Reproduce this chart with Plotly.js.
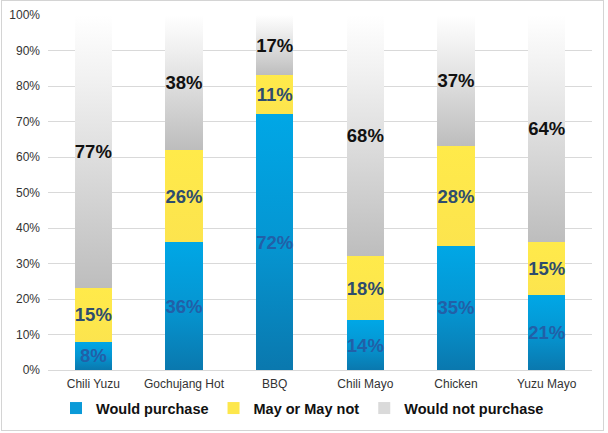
<!DOCTYPE html>
<html><head><meta charset="utf-8">
<script src="https://cdn.plot.ly/plotly-3.0.1.min.js"></script>
<style>
html,body{margin:0;padding:0;background:#fff;}
#chart{position:absolute;left:1px;top:0;width:601px;height:429px;border:1px solid #D4D4D4;}
</style></head>
<body><div id="chart"></div>
<script>
var categories = ["Chili Yuzu", "Gochujang Hot", "BBQ", "Chili Mayo", "Chicken", "Yuzu Mayo"];
var wouldPurchase = [8, 36, 72, 14, 35, 21];
var mayOrMayNot = [15, 26, 11, 18, 28, 15];
var wouldNotPurchase = [77, 38, 17, 68, 37, 64];
var seriesNames = ["Would purchase", "May or May not", "Would not purchase"];
var yTicks = [0, 10, 20, 30, 40, 50, 60, 70, 80, 90, 100];

function pct(a){ return a.map(function(v){ return v/100; }); }
function lab(a){ return a.map(function(v){ return v + "%"; }); }

var common = {
  type: "bar", x: categories, textposition: "inside", insidetextanchor: "middle",
  textangle: 0, constraintext: "none", hoverinfo: "none", cliponaxis: false
};
var t1 = Object.assign({}, common, {
  name: seriesNames[0], y: pct(wouldPurchase), text: lab(wouldPurchase),
  marker: {color: "#0A9AD8"},
  textfont: {family: "Arial, Liberation Sans, sans-serif", size: 18.5, color: "#2160A8", weight: "bold"}
});
var t2 = Object.assign({}, common, {
  name: seriesNames[1], y: pct(mayOrMayNot), text: lab(mayOrMayNot),
  marker: {color: "#FDE74C"},
  textfont: {family: "Arial, Liberation Sans, sans-serif", size: 18.5, color: "#2E4D6E", weight: "bold"}
});
var t3 = Object.assign({}, common, {
  name: seriesNames[2], y: pct(wouldNotPurchase), text: lab(wouldNotPurchase),
  marker: {color: "#DADADA"},
  textfont: {family: "Arial, Liberation Sans, sans-serif", size: 18.5, color: "#111111", weight: "bold"}
});

var layout = {
  width: 601, height: 429,
  margin: {l: 46, r: 11, t: 14, b: 60, autoexpand: false},
  barmode: "stack", bargap: 0.59,
  paper_bgcolor: "#fff", plot_bgcolor: "#fff",
  font: {family: "Arial, Liberation Sans, sans-serif", color: "#333"},
  xaxis: {tickfont: {size: 12, color: "#333"}, showline: true, linecolor: "#D9D9D9", ticks: "",
          ticklabelstandoff: 3, fixedrange: true},
  yaxis: {range: [0, 1], tickvals: pct(yTicks), ticktext: lab(yTicks), tickfont: {size: 12, color: "#333"},
          gridcolor: "#D9D9D9", zeroline: false, ticks: "", ticklen: 0, ticklabelstandoff: 7, fixedrange: true},
  showlegend: true,
  legend: {orientation: "h", xref: "container", yref: "container", x: 0.5, xanchor: "center", y: 0.051, yanchor: "middle",
           font: {size: 14.5, color: "#111", weight: "bold"}, traceorder: "normal", itemwidth: 30}
};

Plotly.newPlot("chart", [t1, t2, t3], layout, {displayModeBar: false, staticPlot: true}).then(function(gd){
  var svg = gd.querySelector("svg.main-svg");
  var ns = "http://www.w3.org/2000/svg";
  var defs = document.createElementNS(ns, "defs");
  function grad(id, stops){
    var g = document.createElementNS(ns, "linearGradient");
    g.setAttribute("id", id); g.setAttribute("x1", "0"); g.setAttribute("y1", "0");
    g.setAttribute("x2", "0"); g.setAttribute("y2", "1");
    stops.forEach(function(s){
      var st = document.createElementNS(ns, "stop");
      st.setAttribute("offset", s[0]); st.setAttribute("stop-color", s[1]);
      g.appendChild(st);
    });
    defs.appendChild(g);
  }
  grad("gBlue", [["0", "#00A7E6"], ["0.5", "#0596D2"], ["1", "#0A78AE"]]);
  grad("gYellow", [["0", "#FFEA4A"], ["1", "#FCE44E"]]);
  grad("gGray", [["0", "#FFFFFF"], ["0.25", "#F0F0F0"], ["1", "#BDBDBD"]]);
  svg.insertBefore(defs, svg.firstChild);
  var ids = ["gBlue", "gYellow", "gGray"];
  var traces = gd.querySelectorAll("g.barlayer g.trace.bars");
  traces.forEach(function(tr, i){
    tr.querySelectorAll("g.point path").forEach(function(p){ p.style.fill = "url(#" + ids[i] + ")"; });
  });
});
</script></body></html>
